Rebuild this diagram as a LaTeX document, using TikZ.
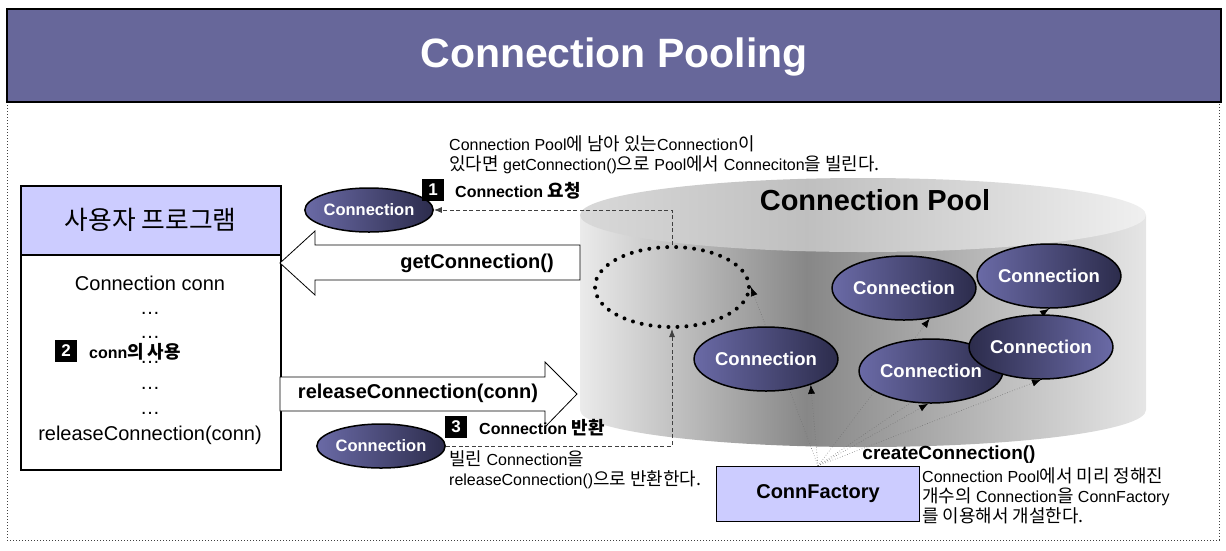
\documentclass[tikz,border=0pt]{standalone}
\usepackage{fontspec}
\setmainfont{Liberation Sans}
\newfontfamily\kofont[Scale=1.12]{Noto Sans CJK KR}
\newcommand{\kor}[1]{{\kofont #1}}
\usetikzlibrary{shapes.geometric,arrows.meta}

\definecolor{titlebar}{HTML}{67679A}
\definecolor{progfill}{HTML}{CCCCFF}
\definecolor{connlight}{HTML}{6A6AA6}
\definecolor{conndark}{HTML}{2C2C4C}

\pgfdeclarehorizontalshading{poolside}{100bp}{color(0bp)=(black!8); color(25bp)=(black!8); color(45bp)=(black!47); color(75bp)=(black!10); color(100bp)=(black!10)}
\pgfdeclarehorizontalshading{pooltop}{100bp}{color(0bp)=(black!15); color(25bp)=(black!15); color(45bp)=(black!25); color(75bp)=(black!6); color(100bp)=(black!6)}

\pgfdeclarelayer{back}
\pgfdeclarelayer{links}
\pgfsetlayers{back,links,main}

\begin{document}
\begin{tikzpicture}[x=1pt,y=-1pt,
  conn/.style={ellipse, draw, line width=1.5pt, left color=connlight, right color=conndark, text=white,
    font=\bfseries\fontsize{18.5}{18.5}\selectfont, minimum width=113pt, minimum height=64pt, inner sep=0pt},
  connflip/.style={conn, left color=conndark, right color=connlight},
  smallconn/.style={conn, minimum width=108pt, minimum height=44pt, font=\bfseries\fontsize{16.5}{16.5}\selectfont},
  badge/.style={fill=black, text=white, font=\bfseries\fontsize{17}{17}\selectfont, minimum size=22pt, inner sep=0pt},
  steptext/.style={anchor=west, inner sep=0pt, font=\bfseries\fontsize{16}{16}\selectfont},
  note/.style={anchor=west, inner sep=0pt, align=left, font=\fontsize{16}{20}\selectfont},
  codeline/.style={inner sep=0pt, font=\fontsize{20}{20}\selectfont},
  callname/.style={inner sep=0pt, font=\bfseries\fontsize{20}{20}\selectfont},
  blockarrow/.style={draw, fill=white, line width=0.8pt},
  dashlink/.style={draw=black!75, line width=0.8pt, dash pattern=on 4pt off 2.5pt, -{Latex[length=8pt,width=6pt]}},
  factlink/.style={draw=black!55, line width=0.6pt, dotted, -{Latex[length=9pt,width=7pt,color=black]}}]
\useasboundingbox (0,0) rectangle (1226,550);

% frame and title
\draw[black!75, dotted, line width=1pt] (7,102) -- (7,540) -- (1219,540) -- (1219,102);
\draw[fill=titlebar, line width=2.5pt] (7,9) rectangle (1221,102);
\node[text=white, font=\bfseries\fontsize{41}{41}\selectfont] (title) at (614,57) {Connection Pooling};

% the pool
\begin{pgfonlayer}{back}
\shade[shading=poolside] (580,215) -- (580,410) arc[start angle=180, end angle=0, x radius=283, y radius=37] -- (1146,215) -- cycle;
\shade[shading=pooltop] (863,215) ellipse [x radius=283, y radius=37];
\end{pgfonlayer}
\node[font=\bfseries\fontsize{29}{29}\selectfont] (poolname) at (875,200) {Connection Pool};

\node[draw, ellipse, line width=4pt, dash pattern=on 0pt off 9pt, line cap=round, minimum width=154pt, minimum height=80pt] (slot) at (672,287) {};
\node[conn] (c1) at (766,359) {Connection};
\node[conn] (c2) at (904,288) {Connection};
\node[conn] (c3) at (931,371) {Connection};
\node[conn] (c4) at (1049,276) {Connection};
\node[connflip] (c5) at (1041,347) {Connection};

% factory
\node[draw, fill=progfill, line width=1.5pt, minimum width=203pt, minimum height=55pt, font=\bfseries\fontsize{20}{20}\selectfont] (factory) at (818,494) {ConnFactory};
\node[callname, font=\bfseries\fontsize{19}{19}\selectfont] (create) at (949,455) {createConnection()};
\begin{pgfonlayer}{links}
\foreach \dest in {slot.east, c1.-30, c2.-50, c3.-95, c4.south, c5.south}
  \draw[factlink] (factory.north) -- (\dest);
\end{pgfonlayer}

% user program
\node[draw, line width=1.5pt, fill=progfill, anchor=north west, minimum width=260pt, minimum height=69pt, inner sep=0pt, font=\fontsize{23}{23}\selectfont] (proghead) at (20,185) {\kor{사용자 프로그램}};
\node[draw, line width=1.5pt, anchor=north west, minimum width=260pt, minimum height=215pt] (progbody) at (20,254) {};
\node[codeline] (declare) at (150,283) {Connection conn};
\foreach \y in {313,337,362,388,413}
  \node[codeline] (dots\y) at (150,\y) {…};
\node[codeline] (release) at (150,435) {releaseConnection(conn)};
\node[badge] (n2) at (66,351) {2};
\node[steptext] (use) at (89,352) {conn\kor{의 사용}};

% get / release
\draw[blockarrow] (280,263) -- (315,231) -- (315,245) -- (580,245) -- (580,280) -- (315,280) -- (315,295) -- cycle;
\node[callname] (getcall) at (477,263) {getConnection()};
\draw[blockarrow] (280,377) -- (545,377) -- (545,362) -- (577,394) -- (545,427) -- (545,411) -- (280,411) -- cycle;
\node[callname] (relcall) at (418,393) {releaseConnection(conn)};

\node[smallconn] (req) at (369,210) {Connection};
\node[smallconn] (ret) at (381,446) {Connection};
\draw[dashlink] (slot.north) |- (req.east);
\draw[dashlink] (ret.east) -| (slot.south);

\node[badge] (n1) at (433,190) {1};
\node[steptext] (reqtext) at (455,191) {Connection \kor{요청}};
\node[badge] (n3) at (456,427) {3};
\node[steptext] (rettext) at (479,428) {Connection \kor{반환}};

% notes
\node[note] (borrow) at (449,155) {Connection Pool\kor{에 남아 있는}Connection\kor{이}\\\kor{있다면} getConnection()\kor{으로} Pool\kor{에서} Conneciton\kor{을 빌린다.}};
\node[note] (giveback) at (449,470) {\kor{빌린} Connection\kor{을}\\releaseConnection()\kor{으로 반환한다.}};
\node[note] (prepare) at (922,496) {Connection Pool\kor{에서 미리 정해진}\\\kor{개수의} Connection\kor{을} ConnFactory\\\kor{를 이용해서 개설한다.}};
\end{tikzpicture}
\end{document}
